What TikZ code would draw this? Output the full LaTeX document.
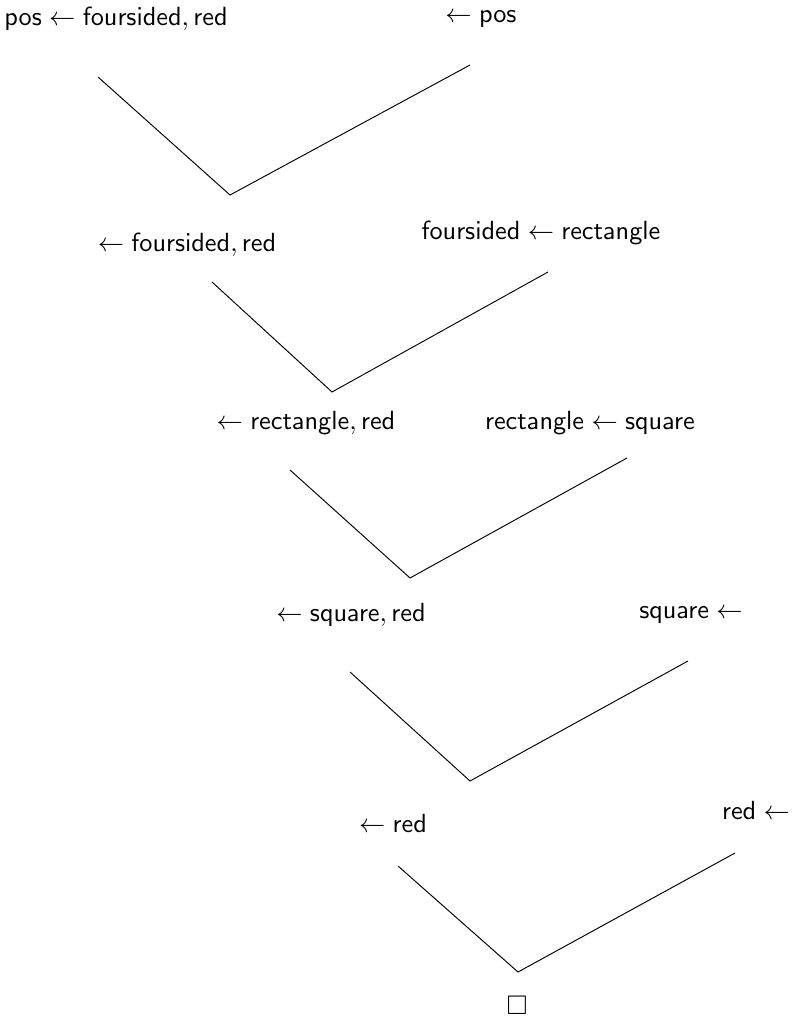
\documentclass[tikz,border=0pt]{standalone}
\usepackage{amssymb}
\begin{document}
\begin{tikzpicture}[x=0.4167pt,y=-0.4167pt,
  lbl/.style={inner sep=0pt,font=\fontsize{11.2}{13}\selectfont},
  edge/.style={draw=black,line width=0.4pt}]
\useasboundingbox (0,0) rectangle (795,1025);
% row 1
\node[lbl] (l1) at (116,19) {$\mathsf{pos} \leftarrow \mathsf{foursided}, \mathsf{red}$};
\node[lbl] (r1) at (481,19) {$\leftarrow \mathsf{pos}$};
\coordinate (a1) at (98,77);
\coordinate (v1) at (230,195);
\coordinate (b1) at (470,65);
\draw[edge] (a1) -- (v1) -- (b1);
% row 2
\node[lbl] (l2) at (187,245) {$\leftarrow \mathsf{foursided}, \mathsf{red}$};
\node[lbl] (r2) at (541,233) {$\mathsf{foursided} \leftarrow \mathsf{rectangle}$};
\coordinate (a2) at (212,282);
\coordinate (v2) at (332,392);
\coordinate (b2) at (548,272);
\draw[edge] (a2) -- (v2) -- (b2);
% row 3
\node[lbl] (l3) at (306,423) {$\leftarrow \mathsf{rectangle}, \mathsf{red}$};
\node[lbl] (r3) at (590,423) {$\mathsf{rectangle} \leftarrow \mathsf{square}$};
\coordinate (a3) at (290,470);
\coordinate (v3) at (410,578);
\coordinate (b3) at (627,458);
\draw[edge] (a3) -- (v3) -- (b3);
% row 4
\node[lbl] (l4) at (351,615) {$\leftarrow \mathsf{square}, \mathsf{red}$};
\node[lbl] (r4) at (691,615) {$\mathsf{square} \leftarrow$};
\coordinate (a4) at (350,672);
\coordinate (v4) at (470,781);
\coordinate (b4) at (688,661);
\draw[edge] (a4) -- (v4) -- (b4);
% row 5
\node[lbl] (l5) at (393,823) {$\leftarrow \mathsf{red}$};
\node[lbl] (r5) at (756,810) {$\mathsf{red} \leftarrow$};
\coordinate (a5) at (398,866);
\coordinate (v5) at (518,972);
\coordinate (b5) at (735,853);
\draw[edge] (a5) -- (v5) -- (b5);
% empty clause
\node[lbl] (e) at (517,1005) {$\square$};
\end{tikzpicture}
\end{document}
